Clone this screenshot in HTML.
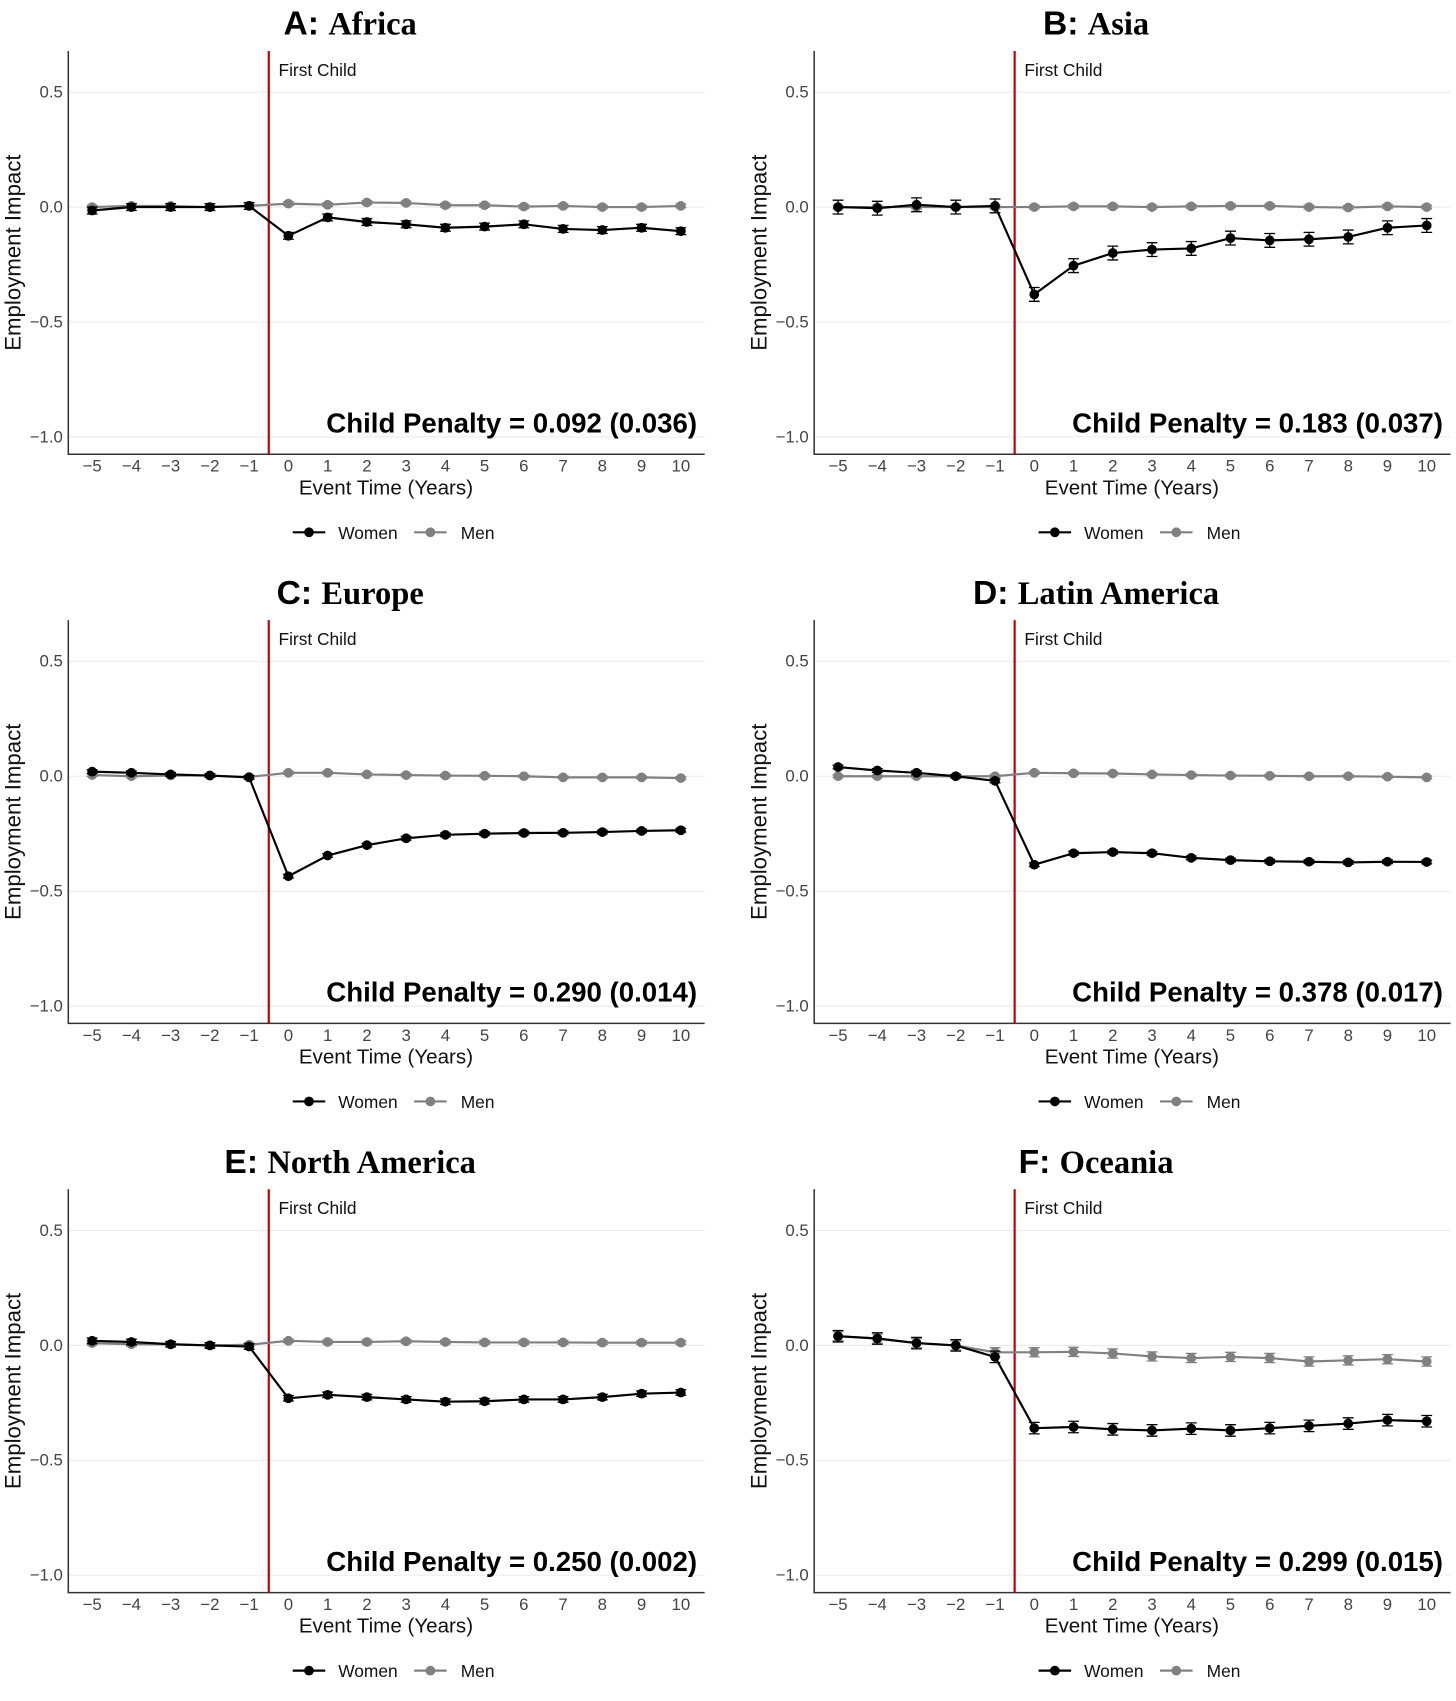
<!DOCTYPE html>
<html><head><meta charset="utf-8"><style>
html,body{margin:0;padding:0;background:#fff;}
svg{display:block;}
text{font-family:"Liberation Sans",sans-serif;}
</style></head><body>
<svg id="fig" width="1456" height="1701" viewBox="0 0 1343 1569" preserveAspectRatio="none" xmlns="http://www.w3.org/2000/svg"></svg>
<script>
const eventTimes = [-5,-4,-3,-2,-1,0,1,2,3,4,5,6,7,8,9,10];
const yTicks = [0.5,0.0,-0.5,-1.0];
const yTickLabels = ["0.5","0.0","\u22120.5","\u22121.0"];
const xTickLabels = ["\u22125","\u22124","\u22123","\u22122","\u22121","0","1","2","3","4","5","6","7","8","9","10"];
const panelLetters = ["A:","B:","C:","D:","E:","F:"];
const panelRegions = ["Africa","Asia","Europe","Latin America","North America","Oceania"];
const penaltyLabels = ["0.092 (0.036)","0.183 (0.037)","0.290 (0.014)","0.378 (0.017)","0.250 (0.002)","0.299 (0.015)"];
const womenA = [-0.015,0,0,0,0.005,-0.125,-0.045,-0.065,-0.075,-0.09,-0.085,-0.075,-0.095,-0.1,-0.09,-0.105];
const menA = [0,0.005,0.005,0,0.005,0.015,0.01,0.02,0.018,0.008,0.008,0.002,0.005,0,0,0.005];
const womenB = [0,-0.005,0.01,0,0.005,-0.38,-0.255,-0.2,-0.185,-0.18,-0.135,-0.145,-0.14,-0.13,-0.09,-0.08];
const menB = [0,0,0,0,0,0,0.003,0.003,0,0.003,0.005,0.005,0,-0.002,0.003,0];
const womenC = [0.02,0.015,0.008,0.003,-0.005,-0.435,-0.345,-0.3,-0.27,-0.255,-0.25,-0.247,-0.246,-0.243,-0.238,-0.235];
const menC = [0.005,0,0.003,0.003,-0.003,0.015,0.015,0.008,0.005,0.003,0.002,0,-0.005,-0.005,-0.005,-0.008];
const womenD = [0.04,0.025,0.015,0,-0.02,-0.385,-0.335,-0.33,-0.335,-0.355,-0.365,-0.37,-0.372,-0.375,-0.372,-0.373];
const menD = [0,0,0,0,0,0.015,0.013,0.012,0.008,0.005,0.003,0.002,0,0,-0.002,-0.005];
const womenE = [0.02,0.015,0.005,0,-0.005,-0.23,-0.215,-0.225,-0.235,-0.245,-0.243,-0.235,-0.235,-0.225,-0.21,-0.205];
const menE = [0.01,0.005,0.005,0,0.003,0.02,0.015,0.015,0.018,0.015,0.013,0.013,0.013,0.012,0.012,0.012];
const womenF = [0.04,0.03,0.01,0,-0.05,-0.36,-0.355,-0.365,-0.37,-0.362,-0.37,-0.36,-0.35,-0.34,-0.325,-0.33];
const menF = [0.04,0.03,0.01,0,-0.03,-0.03,-0.028,-0.035,-0.048,-0.055,-0.05,-0.055,-0.07,-0.065,-0.06,-0.07];
const womenErr = [0.015,0.03,0.008,0.008,0.012,0.025];
const menErr = [0.008,0.008,0.006,0.006,0.008,0.02];
const womenSeries = [womenA,womenB,womenC,womenD,womenE,womenF];
const menSeries = [menA,menB,menC,menD,menE,menF];

const NS="http://www.w3.org/2000/svg";
const svg=document.getElementById('fig');
function mk(tag,attrs,parent){const e=document.createElementNS(NS,tag);for(const k in attrs)e.setAttribute(k,attrs[k]);(parent||svg).appendChild(e);return e;}

for(let p=0;p<6;p++){
  const ox=(p%2)*688, oy=Math.floor(p/2)*525;
  const g=mk('g',{transform:`translate(${ox},${oy})`});
  
  
  const xS=v=>85+(v+5)*(628-85)/15;
  const yS=v=>191-v*212;
  yTicks.forEach((t,i)=>{
    const l=mk('line',{x1:63,x2:650,y1:yS(t),y2:yS(t),stroke:'#ebebeb','stroke-width':1},g);
    
    
    const tx=mk('text',{x:58,y:yS(t)+5,'text-anchor':'end','font-size':15.5,fill:'#444'},g);
    tx.textContent=yTickLabels[i];
    
    
  });
  eventTimes.forEach((t,i)=>{
    const tx=mk('text',{x:xS(t),y:435,'text-anchor':'middle','font-size':15.5,fill:'#444'},g);
    tx.textContent=xTickLabels[i];
    
    
  });
  const ax=mk('path',{d:'M63,47 V419 H650',fill:'none',stroke:'#333','stroke-width':1.4},g);
  
  
  const rl=mk('line',{x1:xS(-0.5),x2:xS(-0.5),y1:47,y2:419,stroke:'#c00000','stroke-width':2},g);
  
  
  const fc=mk('text',{x:xS(-0.5)+9,y:70,'font-size':16,fill:'#111'},g);
  fc.textContent='First Child';
  
  
  const drawSeries=(vals,err,color,name)=>{
    const sg=mk('g',{},g);
    
    
    vals.forEach((v,i)=>{
      const x=xS(eventTimes[i]);
      const eb=mk('path',{d:`M${x-5},${yS(v+err)} H${x+5} M${x},${yS(v+err)} V${yS(v-err)} M${x-5},${yS(v-err)} H${x+5}`,stroke:color,'stroke-width':1.2,fill:'none'},sg);
      
      
    });
    const pl=mk('polyline',{points:vals.map((v,i)=>xS(eventTimes[i])+','+yS(v)).join(' '),fill:'none',stroke:color,'stroke-width':2},sg);
    
    
    vals.forEach((v,i)=>{
      const c=mk('circle',{cx:xS(eventTimes[i]),cy:yS(v),r:4.5,fill:color},sg);
      
      
    });
  };
  drawSeries(menSeries[p],menErr[p],'#808080','men');
  drawSeries(womenSeries[p],womenErr[p],'#000','women');
  const cp=mk('text',{x:643,y:399,'text-anchor':'end','font-size':25.5,'font-weight':'bold',fill:'#000'},g);
  cp.textContent='Child Penalty = '+penaltyLabels[p];
  
  
  const xt=mk('text',{x:356,y:456,'text-anchor':'middle','font-size':19,fill:'#111'},g);
  xt.textContent='Event Time (Years)';
  
  
  const yt=mk('text',{x:0,y:0,'text-anchor':'middle','font-size':20.5,fill:'#111',transform:'translate(19,233) rotate(-90)'},g);
  yt.textContent='Employment Impact';
  
  
  const tt=mk('text',{x:323,y:32,'text-anchor':'middle',fill:'#000'},g);
  
  
  const t1=mk('tspan',{'font-size':31,'font-weight':'bold','font-family':'Liberation Sans, sans-serif'},tt);t1.textContent=panelLetters[p]+' ';
  const t2=mk('tspan',{'font-size':30,'font-weight':'bold','font-family':'Liberation Serif, serif'},tt);t2.textContent=panelRegions[p];
  const lg=mk('g',{},g);
  
  
  mk('line',{x1:270,x2:300,y1:491,y2:491,stroke:'#000','stroke-width':2},lg);
  mk('circle',{cx:285,cy:491,r:4.5,fill:'#000'},lg);
  const lw=mk('text',{x:312,y:497,'font-size':16,fill:'#111'},lg);lw.textContent='Women';
  
  
  mk('line',{x1:382,x2:412,y1:491,y2:491,stroke:'#808080','stroke-width':2},lg);
  mk('circle',{cx:397,cy:491,r:4.5,fill:'#808080'},lg);
  const lm=mk('text',{x:425,y:497,'font-size':16,fill:'#111'},lg);lm.textContent='Men';
  
  
}
</script>
</body></html>
